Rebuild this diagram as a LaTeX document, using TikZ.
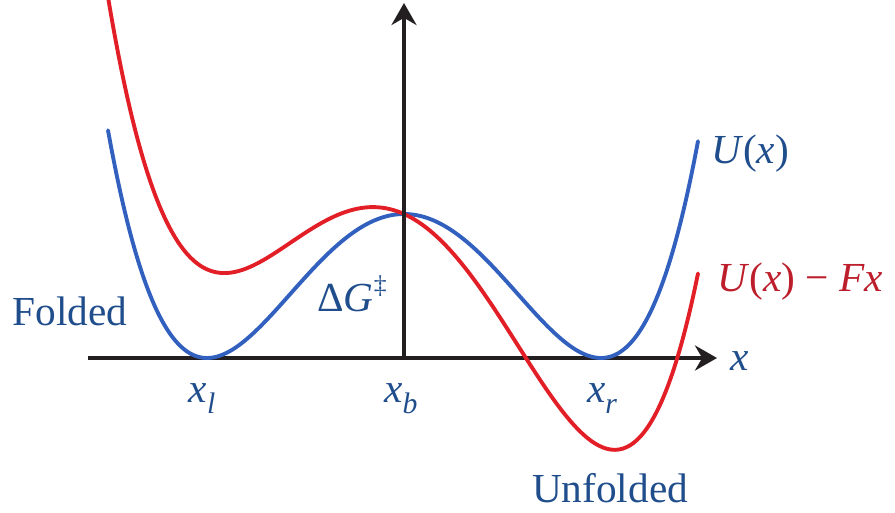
\documentclass[tikz,border=0pt]{standalone}
\usepackage{fontspec}
\setmainfont{Liberation Serif}
\usetikzlibrary{arrows.meta,positioning}
\definecolor{wellblue}{RGB}{50,96,190}
\definecolor{tiltred}{RGB}{226,30,38}
\definecolor{labelblue}{RGB}{32,78,140}
\definecolor{labelred}{RGB}{188,30,44}
\definecolor{axisblack}{RGB}{35,31,32}
\newcommand{\lowsub}[1]{\raisebox{-0.28em}{\scalebox{0.72}{#1}}}
\newcommand{\dagsup}{\raisebox{0.42em}{\scalebox{0.62}{‡}}}

\begin{document}
\begin{tikzpicture}[x=0.02cm,y=0.02cm,font=\fontsize{23.5}{27}\selectfont,
 declare function={uw(\t)=144*((\t/197)*(\t/197)-1)*((\t/197)*(\t/197)-1);},
 axisline/.style={line width=2.4pt,draw=axisblack,-{Stealth[length=4.4mm,width=5mm]}},
 curve/.style={line width=2.2pt,smooth,line cap=round},
 lbl/.style={text=labelblue,inner sep=0pt,anchor=base}]
\useasboundingbox (-404,-154) rectangle (491,358);
\coordinate (origin) at (0,0);
\coordinate (xstart) at (-316,0);
\coordinate (xend) at (313,0);
\coordinate (ytop) at (0,355);
\draw[axisline] (xstart) -- (xend);
% potential with and without the pulling force
\draw[curve,wellblue] plot[domain=-296:294,samples=150] (\x,{uw(\x)});
\draw[curve,tiltred] plot[domain=-296:294,samples=150] (\x,{uw(\x)-0.45*\x});
\draw[axisline] (origin) -- (ytop);
\node[lbl] (folded) at (-334,33) {Folded};
\node[lbl] (unfolded) at (206,-144) {Unfolded};
\node[lbl] (barrier) at (-52,47) {Δ\textit{G}\dagsup};
\node[lbl] (ulabel) at (346,195) {\textit{U}(\textit{x})};
\node[lbl,text=labelred] (tiltlabel) at (396,67) {\textit{U}(\textit{x}) − \textit{Fx}};
\node[lbl] (xlabel) at (336,-12) {\textit{x}};
\node[lbl] (xl) at (-202,-44) {\textit{x}\lowsub{\textit{l}}};
\node[lbl] (xb) at (-3,-44) {\textit{x}\lowsub{\textit{b}}};
\node[lbl] (xr) at (198,-44) {\textit{x}\lowsub{\textit{r}}};
\end{tikzpicture}
\end{document}
